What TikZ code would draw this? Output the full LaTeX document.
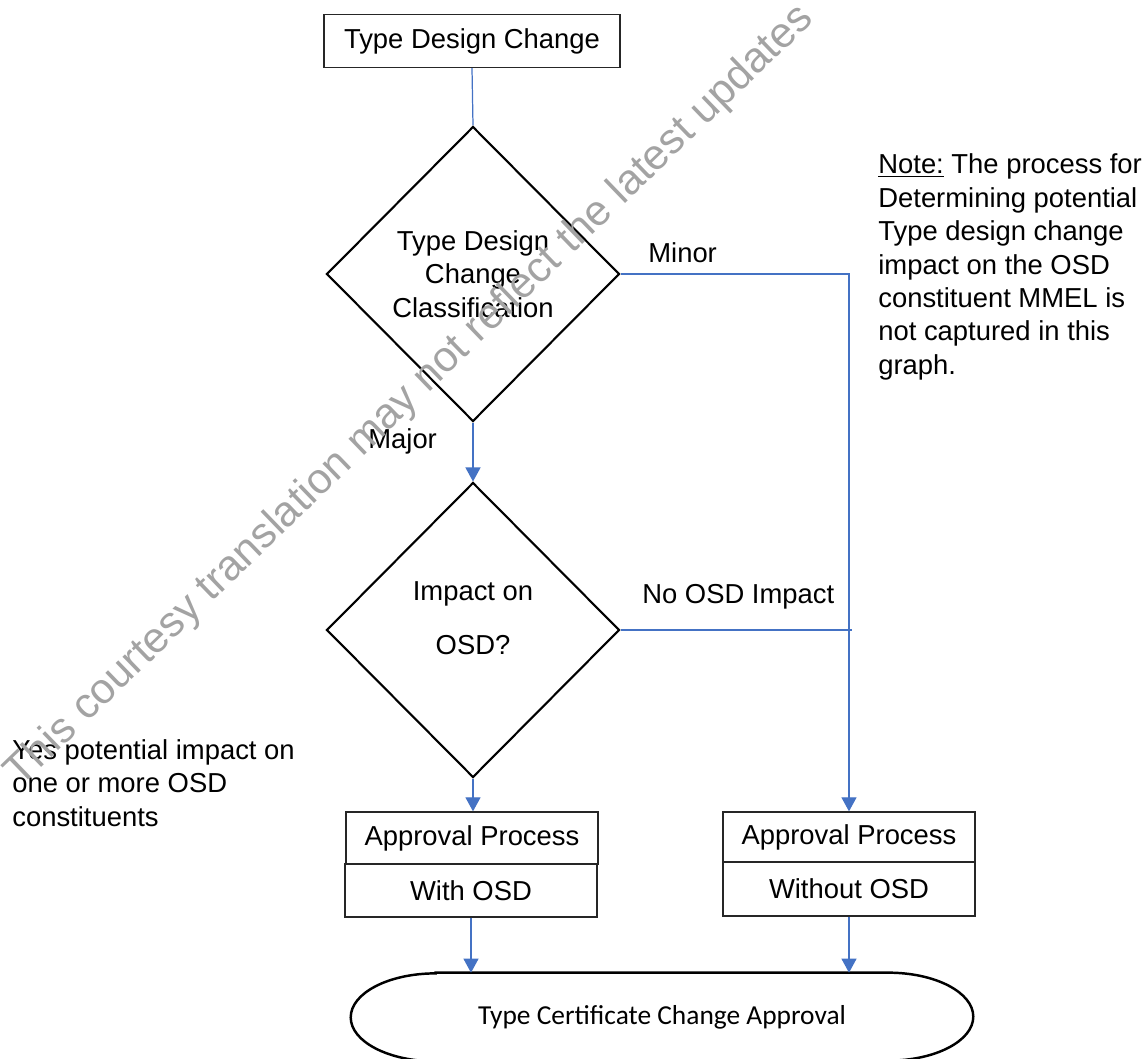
\documentclass[tikz,border=0pt]{standalone}
\usepackage{fontspec}
\setmainfont{Liberation Sans}
\newfontfamily\calibri{Carlito}
\usetikzlibrary{shapes.geometric,arrows.meta}

\definecolor{flowblue}{RGB}{68,114,196}
\definecolor{wmgray}{RGB}{163,163,163}

\tikzset{
  box/.style={draw=black!85, line width=0.75pt, minimum width=5.04cm, minimum height=1.04cm, inner sep=0pt},
  decide/.style={diamond, draw=black, line width=1.2pt, minimum width=5.86cm, minimum height=5.9cm, inner sep=0pt, align=center},
  flow/.style={draw=flowblue, line width=0.7pt},
  arr/.style={-{Triangle[width=0.3cm,length=0.28cm]}},
  txt/.style={inner sep=0pt},
  wmark/.style={text=wmgray, font=\fontsize{24.3}{30}\selectfont, rotate=44}
}

\begin{document}
\begin{tikzpicture}[x=0.02cm, y=-0.02cm, font=\fontsize{15.6}{19}\selectfont]
\useasboundingbox (0,0) rectangle (1144,1059);
% blocks
\node[box, minimum width=5.92cm, minimum height=1.06cm] (tdc) at (472,41) {Type Design Change};
\node[decide] (cls) at (473,274) {Type Design\\Change\\Classification};
\node[decide] (osd) at (473,630) {};
\node[txt, align=center] (osdtxt) at (473,618) {Impact on\\[0.42cm]OSD?};
\node[box] (apo) at (472,838) {Approval Process};
\node[box, minimum height=1.06cm] (wos) at (471,890.5) {With OSD};
\node[box, minimum height=1.0cm] (apn) at (849,837) {Approval Process};
\node[box, minimum height=1.08cm] (aps) at (849,889) {Without OSD};
\node[txt, minimum width=12.44cm, minimum height=1.76cm, font=\calibri\fontsize{15.6}{19}\selectfont] (tcca) at (662,1017) {Type Certificate Change Approval};
\draw[line width=1.4pt] ([xshift=1.7cm]tcca.north west) -- ([xshift=-1.7cm]tcca.north east)
  arc[start angle=90, end angle=-90, x radius=1.7cm, y radius=0.88cm]
  -- ([xshift=1.7cm]tcca.south west)
  arc[start angle=270, end angle=90, x radius=1.7cm, y radius=0.88cm] -- cycle;
% connectors
\draw[flow] (tdc.south) -- (cls.north);
\draw[flow, arr] (cls.east) -| (apn.north);
\draw[flow, arr] (cls.south) -- (osd.north);
\coordinate (jn) at (852,630);
\draw[flow] (osd.east) -- (jn);
\draw[flow, arr] (osd.south) -- (osd.south |- apo.north);
\draw[flow, arr] (wos.south) -- (wos.south |- tcca.north);
\draw[flow, arr] (aps.south) -- (aps.south |- tcca.north);
% labels
\node[txt, anchor=west] (minor) at (648,253) {Minor};
\node[txt, anchor=west] (major) at (368,441) {Major};
\node[txt, anchor=west] (noimp) at (642,597) {No OSD Impact};
\node[txt, anchor=west, align=left] (yes) at (12,783) {Yes potential impact on\\one or more OSD\\constituents};
\node[txt, anchor=west, align=left] (note) at (878,267) {\underline{Note:} The process for\\Determining potential\\Type design change\\impact on the OSD\\constituent MMEL is\\not captured in this\\graph.};
% watermark
\node[wmark] (wm) at (410,396) {This courtesy translation may not reflect the latest updates};
\end{tikzpicture}
\end{document}
